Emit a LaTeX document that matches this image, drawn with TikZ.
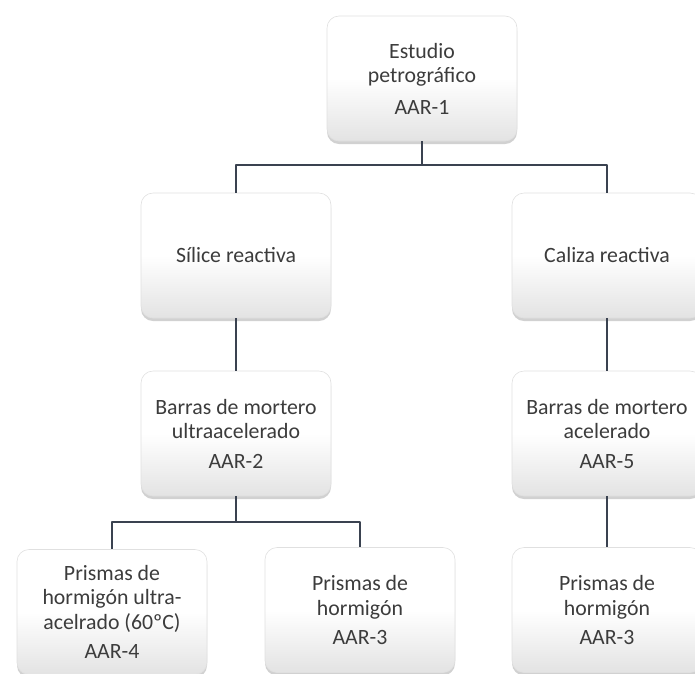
\documentclass[tikz,border=0pt]{standalone}
\usepackage{fontspec}
\setmainfont{Carlito}
\usetikzlibrary{shadows}
\definecolor{chu}{HTML}{3C3C3C}
\definecolor{duong}{HTML}{3A4250}
\begin{document}
\begin{tikzpicture}[x=1pt, y=-1pt, line join=round, line cap=round,
	hop/.style={rounded corners=12pt, draw=black!12, line width=.6pt, top color=white, bottom color=black!11, middle color=white,
		minimum width=190pt, minimum height=125pt, inner sep=0pt, align=center, text=chu,
		font=\fontsize{21.8}{24.5}\selectfont, drop shadow={shadow xshift=0pt, shadow yshift=-3pt, opacity=.3, fill=black!60}},
	noi/.style={draw=duong, line width=1.8pt, line cap=butt}]
			\def\xmax{695} \def\ymax{673}
			\useasboundingbox (0,0) rectangle (\xmax,\ymax);
			\clip (0,0) rectangle (\xmax,\ymax);
			% hang 1, 2
			\node[hop] (goc) at (422,78.5) {Estudio\\petrográfico\\[7pt]AAR-1};
			\node[hop] (silice) at (236,255.5) {Sílice reactiva};
			\node[hop] (caliza) at (607,255.5) {Caliza reactiva};
			% hang 3, 4
			\node[hop] (aar2) at (236,433.5) {Barras de mortero\\ultraacelerado\\[5pt]AAR-2};
			\node[hop] (aar5) at (607,433.5) {Barras de mortero\\acelerado\\[5pt]AAR-5};
			\node[hop] (aar4) at (112,612) {Prismas de\\hormigón ultra-\\acelrado (60ºC)\\[5pt]AAR-4};
			\node[hop] (aar3) at (360,610) {Prismas de\\hormigón\\[5pt]AAR-3};
			\node[hop] (aar3b) at (607,610) {Prismas de\\hormigón\\[5pt]AAR-3};
			% duong noi
			\draw[noi] (goc.south)--++(0,24)-|(silice.north) (goc.south)--++(0,24)-|(caliza.north);
			\draw[noi] (silice.south)--(aar2.north) (caliza.south)--(aar5.north) (aar5.south)--(aar3b.north);
			\draw[noi] (aar2.south)--++(0,25.5)-|(aar4.north) (aar2.south)--++(0,25.5)-|(aar3.north);
		\end{tikzpicture}
\end{document}
